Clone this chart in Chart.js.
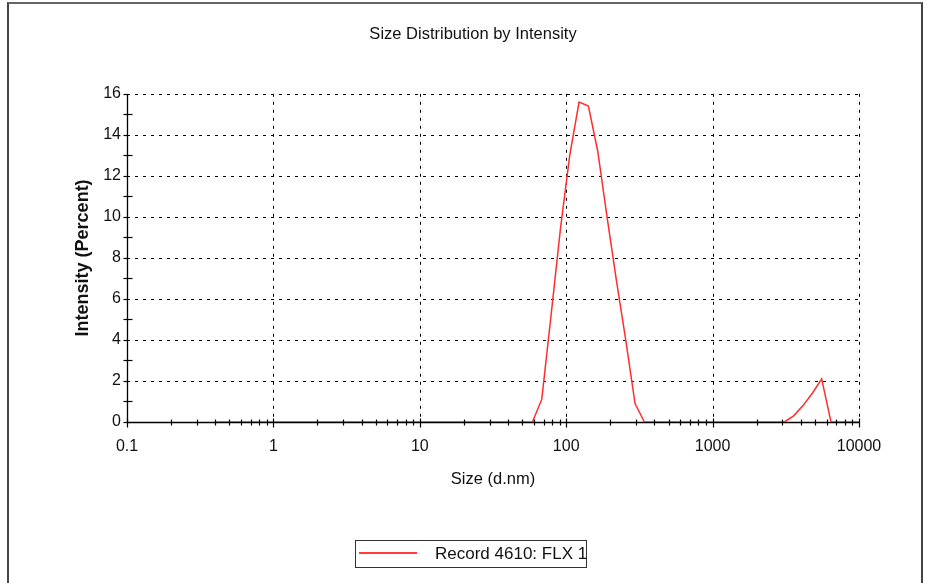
<!DOCTYPE html>
<html>
<head>
<meta charset="utf-8">
<script src="https://cdn.jsdelivr.net/npm/chart.js@4.4.1/dist/chart.umd.min.js"></script>
<style>
  html, body { margin: 0; padding: 0; background: #fff; }
  #wrap { position: relative; width: 927px; height: 583px; overflow: hidden; background: #fff; }
  #c { position: absolute; left: 0; top: 0; }
  #frame { position: absolute; left: 7px; top: 2px; width: 912px; height: 600px;
           border-left: 2px solid #444; border-top: 2px solid #666; border-right: 2px solid #444;
           pointer-events: none; }
  #legend { position: absolute; left: 355px; top: 540px; width: 230px; height: 26px;
            border: 1px solid #333; background: #fff;
            font-family: "Liberation Sans", Arial, sans-serif; font-size: 17px; color: #111; }
  #legend .sw { position: absolute; display: block; left: 3px; top: 11px; width: 58px; height: 2px;
                background: rgb(255,60,60); }
  #legend .tx { position: absolute; left: 79px; top: 3px; line-height: 20px; white-space: nowrap; }
</style>
</head>
<body>
<div id="wrap">
  <canvas id="c" width="927" height="583"></canvas>
  <div id="frame"></div>
  <div id="legend"><span class="sw"></span><span class="tx">Record 4610: FLX 1</span></div>
</div>
<script>
// ---- data ----
const chartTitle = "Size Distribution by Intensity";
const xAxisTitle = "Size (d.nm)";
const yAxisTitle = "Intensity (Percent)";
const seriesName = "Record 4610: FLX 1";

const sizes = [0.4000, 0.4632, 0.5365, 0.6213, 0.7195, 0.8332, 0.9649, 1.117, 1.294, 1.499,
  1.736, 2.010, 2.328, 2.696, 3.122, 3.615, 4.187, 4.849, 5.615, 6.503,
  7.531, 8.721, 10.10, 11.70, 13.54, 15.69, 18.17, 21.04, 24.36, 28.21,
  32.67, 37.84, 43.82, 50.75, 58.77, 68.06, 78.82, 91.28, 105.7, 122.4,
  141.8, 164.2, 190.1, 220.2, 255.0, 295.3, 342.0, 396.1, 458.7, 531.2,
  615.1, 712.4, 825.0, 955.4, 1106, 1281, 1484, 1718, 1990, 2305,
  2669, 3091, 3580, 4145, 4801, 5560, 6439, 7456, 8635, 10000];

const intensity = [0, 0, 0, 0, 0, 0, 0, 0, 0, 0,
  0, 0, 0, 0, 0, 0, 0, 0, 0, 0,
  0, 0, 0, 0, 0, 0, 0, 0, 0, 0,
  0, 0, 0, 0, 0, 1.1, 5.2, 9.4, 13.0, 15.6,
  15.4, 13.2, 10.0, 6.9, 4.0, 0.9, 0, 0, 0, 0,
  0, 0, 0, 0, 0, 0, 0, 0, 0, 0,
  0, 0, 0.3, 0.8, 1.4, 2.1, 0, 0, 0, 0];

const xTickLabels = [0.1, 1, 10, 100, 1000, 10000];
const yTickLabels = [0, 2, 4, 6, 8, 10, 12, 14, 16];
const yMinorTicks = [1, 3, 5, 7, 9, 11, 13, 15];
const xMinorMultipliers = [2, 3, 4, 5, 6, 7, 8, 9];

const FONT = '"Liberation Sans", Arial, sans-serif';
const INK = '#111';

const axesPlugin = {
  id: 'dlsAxes',
  beforeDatasetsDraw(chart) {
    const { ctx, chartArea: a, scales: { x, y } } = chart;
    ctx.save();
    ctx.strokeStyle = '#000';
    ctx.lineWidth = 1;
    ctx.setLineDash([3, 5]);
    yTickLabels.forEach(v => {
      if (v === 0) return;
      const py = Math.round(y.getPixelForValue(v)) + 0.5;
      ctx.beginPath(); ctx.moveTo(a.left, py); ctx.lineTo(a.right, py); ctx.stroke();
    });
    xTickLabels.forEach((v, i) => {
      if (i === 0) return;
      const px = Math.round(x.getPixelForValue(v)) + 0.5;
      ctx.beginPath(); ctx.moveTo(px, a.top); ctx.lineTo(px, a.bottom); ctx.stroke();
    });
    ctx.setLineDash([]);
    const l = Math.round(a.left) + 0.5, b = Math.round(a.bottom) + 0.5;
    ctx.lineWidth = 1.3;
    ctx.beginPath(); ctx.moveTo(l, Math.round(a.top)); ctx.lineTo(l, b); ctx.lineTo(Math.round(a.right) + 1, b); ctx.stroke();
    ctx.restore();
  },
  afterDatasetsDraw(chart) {
    const { ctx, chartArea: a, scales: { x, y } } = chart;
    ctx.save();
    ctx.strokeStyle = '#000';
    ctx.lineWidth = 1.2;
    const l = Math.round(a.left) + 0.5, b = Math.round(a.bottom) + 0.5;
    yTickLabels.forEach(v => {
      const py = Math.round(y.getPixelForValue(v)) + 0.5;
      ctx.beginPath(); ctx.moveTo(l - 4, py); ctx.lineTo(l + 1, py); ctx.stroke();
    });
    yMinorTicks.forEach(v => {
      const py = Math.round(y.getPixelForValue(v)) + 0.5;
      ctx.beginPath(); ctx.moveTo(l - 4, py); ctx.lineTo(l + 5, py); ctx.stroke();
    });
    xTickLabels.forEach(v => {
      const px = Math.round(x.getPixelForValue(v)) + 0.5;
      ctx.beginPath(); ctx.moveTo(px, b - 4); ctx.lineTo(px, b + 5); ctx.stroke();
    });
    xTickLabels.slice(0, -1).forEach(d => {
      xMinorMultipliers.forEach(m => {
        const px = Math.round(x.getPixelForValue(d * m)) + 0.5;
        ctx.beginPath(); ctx.moveTo(px, b - 3); ctx.lineTo(px, b + 3); ctx.stroke();
      });
    });
    ctx.restore();
  }
};

new Chart(document.getElementById('c'), {
  type: 'line',
  data: {
    datasets: [{
      label: seriesName,
      data: sizes.map((s, i) => ({ x: s, y: intensity[i] })),
      borderColor: 'rgb(255,45,45)',
      borderWidth: 1.5,
      pointRadius: 0,
      tension: 0,
      fill: false
    }]
  },
  options: {
    responsive: false,
    animation: false,
    devicePixelRatio: 1,
    layout: { padding: { top: 0, left: 19, right: 0, bottom: 81 } },
    plugins: {
      legend: { display: false },
      tooltip: { enabled: false },
      title: {
        display: true,
        text: chartTitle,
        color: INK,
        font: { family: FONT, size: 16.5, weight: 'normal', lineHeight: 1.2 },
        padding: { top: 25, bottom: 49 }
      }
    },
    scales: {
      x: {
        type: 'logarithmic',
        min: 0.1,
        max: 10000,
        afterBuildTicks: s => { s.ticks = xTickLabels.map(v => ({ value: v })); },
        afterFit: s => { s.height = 80; },
        grid: { display: false, drawTicks: false },
        border: { display: false },
        ticks: {
          autoSkip: false, maxRotation: 0, padding: 15, color: INK,
          font: { family: FONT, size: 16 },
          callback: v => String(v)
        },
        title: {
          display: true, text: xAxisTitle, color: INK,
          font: { family: FONT, size: 16.5, lineHeight: 1.2 },
          padding: { top: 0, bottom: 13 }
        }
      },
      y: {
        min: 0,
        max: 16,
        afterBuildTicks: s => { s.ticks = yTickLabels.map(v => ({ value: v })); },
        afterFit: s => { s.width = 108; },
        grid: { display: false, drawTicks: false },
        border: { display: false },
        ticks: { padding: 6, color: INK, font: { family: FONT, size: 16 } },
        title: {
          display: true, text: yAxisTitle, color: INK,
          font: { family: FONT, size: 18, weight: 'bold', lineHeight: 1.2 },
          padding: { top: 53, bottom: 0 }
        }
      },
      yRight: {
        position: 'right',
        min: 0,
        max: 16,
        afterFit: s => { s.width = 68; },
        grid: { display: false, drawTicks: false },
        border: { display: false },
        ticks: { display: false }
      }
    }
  },
  plugins: [axesPlugin]
});
</script>
</body>
</html>
